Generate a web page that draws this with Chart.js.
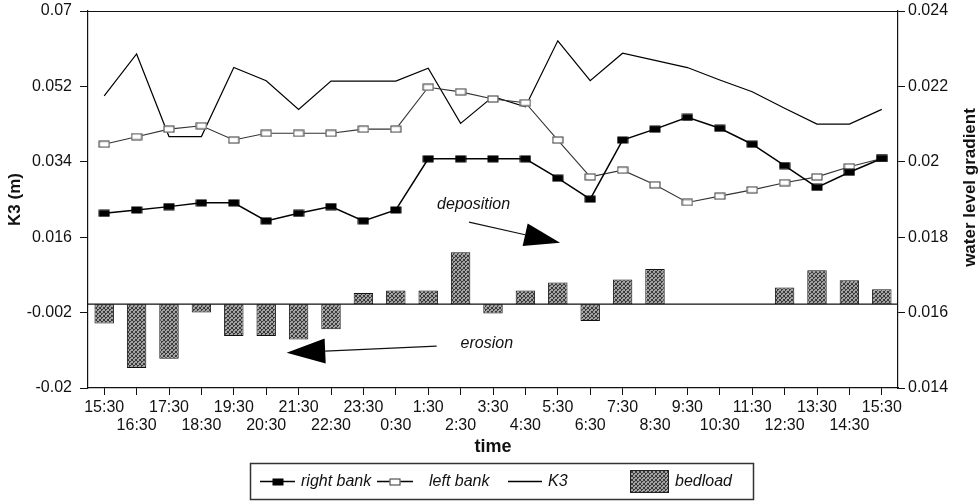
<!DOCTYPE html>
<html>
<head>
<meta charset="utf-8">
<script src="https://cdn.jsdelivr.net/npm/chart.js@4.4.1/dist/chart.umd.min.js"></script>
<style>
  body { margin: 0; background: #fff; }
  canvas { display: block; }
</style>
</head>
<body>
<canvas id="chart" width="979" height="501"></canvas>
<script>
'use strict';

const times = ['15:30', '16:30', '17:30', '18:30', '19:30', '20:30', '21:30', '22:30', '23:30', '0:30',
  '1:30', '2:30', '3:30', '4:30', '5:30', '6:30', '7:30', '8:30', '9:30', '10:30',
  '11:30', '12:30', '13:30', '14:30', '15:30'];

const rightBank = [0.0217, 0.0225, 0.0233, 0.0242, 0.0242, 0.0199, 0.0217, 0.0233, 0.0199, 0.0225,
  0.0347, 0.0347, 0.0347, 0.0347, 0.0301, 0.0251, 0.0392, 0.0418, 0.0446, 0.0420,
  0.0382, 0.0331, 0.0279, 0.0315, 0.0348];

const leftBank = [0.0382, 0.0400, 0.0418, 0.0426, 0.0392, 0.0408, 0.0408, 0.0408, 0.0418, 0.0418,
  0.0518, 0.0507, 0.0490, 0.0481, 0.0392, 0.0304, 0.0320, 0.0285, 0.0243, 0.0258,
  0.0273, 0.0290, 0.0304, 0.0328, 0.0348];

// water level gradient, right axis
const k3 = [0.02175, 0.02286, 0.02067, 0.02067, 0.0225, 0.02215, 0.02139, 0.02214, 0.02214, 0.02214,
  0.02248, 0.02102, 0.02173, 0.02146, 0.02321, 0.02215, 0.02288, 0.02269, 0.0225, 0.02217,
  0.02186, 0.02142, 0.0210, 0.0210, 0.02139];

const bedload = [-0.0046, -0.0152, -0.0130, -0.0020, -0.0076, -0.0076, -0.0084, -0.0060, 0.0027, 0.0033,
  0.0033, 0.0124, -0.0022, 0.0033, 0.0052, -0.0040, 0.0059, 0.0084, null, null,
  null, 0.0040, 0.0081, 0.0057, 0.0036];

const leftRange = [-0.02, 0.07, 0.018];
const rightRange = [0.014, 0.024, 0.002];

// arrows: [x index, left-axis value]
const depositionArrow = { text: 'deposition', label: [11.4, 0.0237], from: [11.26, 0.0196], to: [14.07, 0.0147] };
const erosionArrow = { text: 'erosion', label: [11.81, -0.0093], from: [10.26, -0.0100], to: [5.63, -0.0116] };

const FONT = '"Liberation Sans", Arial, Helvetica, sans-serif';
const INK = '#111';

function makeMarker(filled) {
  const c = document.createElement('canvas');
  c.width = 12;
  c.height = 8;
  const g = c.getContext('2d');
  if (filled) {
    g.fillStyle = '#000';
    g.fillRect(0.5, 0.5, 11, 7);
  } else {
    g.fillStyle = '#fff';
    g.fillRect(0.5, 0.5, 11, 7);
    g.strokeStyle = '#333';
    g.lineWidth = 1;
    g.strokeRect(1, 1, 10, 6);
  }
  return c;
}

function makeStipple(ctx) {
  const c = document.createElement('canvas');
  c.width = 4;
  c.height = 4;
  const g = c.getContext('2d');
  g.fillStyle = '#a2a2a2';
  g.fillRect(0, 0, 4, 4);
  g.fillStyle = '#3a3a3a';
  [[0, 0], [2, 1], [1, 2], [3, 3], [3, 0], [1, 1], [0, 3]].forEach(([x, y]) => g.fillRect(x, y, 1, 1));
  return ctx.createPattern(c, 'repeat');
}

const fmt = (v) => String(Number(v.toFixed(3)));

// keep the plot frame where the reference has it
function fixWidth(w) {
  return (s) => {
    s.width = w;
    s.paddingTop = 0;
    s.paddingBottom = 0;
  };
}

const canvas = document.getElementById('chart');
const ctx = canvas.getContext('2d');
const stipple = makeStipple(ctx);
const filledMarker = makeMarker(true);
const openMarker = makeMarker(false);

const extras = {
  id: 'extras',
  beforeDatasetsDraw(chart) {
    const {ctx, chartArea} = chart;
    const y0 = chart.scales.y.getPixelForValue(0);
    ctx.save();
    ctx.strokeStyle = '#111';
    ctx.lineWidth = 1.2;
    ctx.beginPath();
    ctx.moveTo(chartArea.left, y0);
    ctx.lineTo(chartArea.right, y0);
    ctx.moveTo(chartArea.left, chartArea.top + 0.5);
    ctx.lineTo(chartArea.right, chartArea.top + 0.5);
    ctx.stroke();
    ctx.restore();
  },
  afterDraw(chart) {
    const {ctx, chartArea} = chart;
    const xs = chart.scales.x;
    const ys = chart.scales.y;
    const px = (p) => [xs.getPixelForValue(p[0]), ys.getPixelForValue(p[1])];

    ctx.save();
    // arrows
    [[depositionArrow, 11.5, 35.8], [erosionArrow, 12.5, 38.6]].forEach(([a, half, len]) => {
      const [x1, y1] = px(a.from);
      const [x2, y2] = px(a.to);
      const ang = Math.atan2(y2 - y1, x2 - x1);
      const bx = x2 - Math.cos(ang) * len;
      const by = y2 - Math.sin(ang) * len;
      ctx.strokeStyle = '#111';
      ctx.lineWidth = 1.2;
      ctx.beginPath();
      ctx.moveTo(x1, y1);
      ctx.lineTo(bx, by);
      ctx.stroke();
      ctx.fillStyle = '#000';
      ctx.beginPath();
      ctx.moveTo(x2, y2);
      ctx.lineTo(bx + Math.sin(ang) * half, by - Math.cos(ang) * half);
      ctx.lineTo(bx - Math.sin(ang) * half, by + Math.cos(ang) * half);
      ctx.closePath();
      ctx.fill();

      const [tx, ty] = px(a.label);
      ctx.fillStyle = INK;
      ctx.font = 'italic 16px ' + FONT;
      ctx.textAlign = 'center';
      ctx.textBaseline = 'middle';
      ctx.fillText(a.text, tx, ty);
    });

    // right axis title, reads bottom to top
    ctx.translate(970, (chartArea.top + chartArea.bottom) / 2 - 12);
    ctx.rotate(-Math.PI / 2);
    ctx.font = 'bold 17px ' + FONT;
    ctx.fillStyle = INK;
    ctx.textAlign = 'center';
    ctx.textBaseline = 'middle';
    ctx.fillText('water level gradient', 0, 0);
    ctx.restore();

    // legend
    ctx.save();
    const ly = 481.5;
    ctx.strokeStyle = '#333';
    ctx.lineWidth = 1.5;
    ctx.strokeRect(250.5, 463.5, 503, 36);
    ctx.lineWidth = 1.3;
    ctx.strokeStyle = '#000';
    [[260, 295, filledMarker], [377, 413, openMarker], [508, 542, null]].forEach(([a, b, m]) => {
      ctx.beginPath();
      ctx.moveTo(a, ly);
      ctx.lineTo(b, ly);
      ctx.stroke();
      if (m) ctx.drawImage(m, Math.round((a + b) / 2 - 6), Math.round(ly - 4));
    });
    ctx.fillStyle = stipple;
    ctx.fillRect(630, 470, 38, 22);
    ctx.lineWidth = 1;
    ctx.strokeStyle = '#222';
    ctx.strokeRect(630.5, 470.5, 38, 22);
    ctx.fillStyle = INK;
    ctx.font = 'italic 16px ' + FONT;
    ctx.textAlign = 'left';
    ctx.textBaseline = 'middle';
    ctx.fillText('right bank', 301, ly);
    ctx.fillText('left bank', 429, ly);
    ctx.fillText('K3', 548, ly);
    ctx.fillText('bedload', 675, ly);
    ctx.restore();
  }
};

new Chart(ctx, {
  type: 'bar',
  data: {
    labels: times,
    datasets: [
      {
        type: 'line',
        label: 'right bank',
        data: rightBank,
        yAxisID: 'y',
        borderColor: '#000',
        borderWidth: 1.5,
        pointStyle: filledMarker,
        pointRadius: 5,
        tension: 0,
        order: 1
      },
      {
        type: 'line',
        label: 'left bank',
        data: leftBank,
        yAxisID: 'y',
        borderColor: '#333',
        borderWidth: 1.1,
        pointStyle: openMarker,
        pointRadius: 5,
        tension: 0,
        order: 2
      },
      {
        type: 'line',
        label: 'K3',
        data: k3,
        yAxisID: 'y1',
        borderColor: '#000',
        borderWidth: 1.2,
        pointRadius: 0,
        tension: 0,
        order: 3
      },
      {
        type: 'bar',
        label: 'bedload',
        data: bedload,
        yAxisID: 'y',
        backgroundColor: stipple,
        borderColor: '#111',
        borderWidth: 1,
        borderSkipped: false,
        barPercentage: 0.6,
        categoryPercentage: 1,
        order: 4
      }
    ]
  },
  options: {
    responsive: false,
    animation: false,
    layout: { padding: { top: 11, left: 0, right: 0, bottom: 40 } },
    plugins: {
      legend: { display: false },
      tooltip: { enabled: false }
    },
    scales: {
      x: {
        offset: true,
        afterFit: (s) => { s.height = 73; },
        grid: { offset: false, drawOnChartArea: false, drawTicks: true, tickLength: 7, color: '#111' },
        border: { display: true, color: '#111', width: 1.2 },
        ticks: {
          autoSkip: false,
          maxRotation: 0,
          padding: 3,
          color: INK,
          font: { family: FONT, size: 16, lineHeight: 1.15 },
          callback: (v, i) => (i % 2 === 0 ? [times[i], ''] : ['', times[i]])
        },
        title: {
          display: true,
          text: 'time',
          color: INK,
          font: { family: FONT, size: 18, weight: 'bold', lineHeight: 1.2 },
          padding: { top: 0, bottom: 3 }
        }
      },
      y: {
        position: 'left',
        min: leftRange[0],
        max: leftRange[1],
        afterFit: fixWidth(88),
        ticks: {
          stepSize: leftRange[2],
          padding: 8,
          color: INK,
          font: { family: FONT, size: 16 },
          callback: (v) => fmt(v)
        },
        grid: { drawOnChartArea: false, drawTicks: true, tickLength: 8, color: '#111' },
        border: { display: true, color: '#111', width: 1.2 },
        title: {
          display: true,
          text: 'K3 (m)',
          color: INK,
          font: { family: FONT, size: 17, weight: 'bold', lineHeight: 1.2 },
          padding: { top: 5, bottom: 0 }
        }
      },
      y1: {
        position: 'right',
        min: rightRange[0],
        max: rightRange[1],
        afterFit: fixWidth(81),
        ticks: {
          stepSize: rightRange[2],
          padding: 3,
          color: INK,
          font: { family: FONT, size: 16 },
          callback: (v) => fmt(v)
        },
        grid: { drawOnChartArea: false, drawTicks: true, tickLength: 7, color: '#111' },
        border: { display: true, color: '#111', width: 1.2 }
      }
    }
  },
  plugins: [extras]
});
</script>
</body>
</html>
